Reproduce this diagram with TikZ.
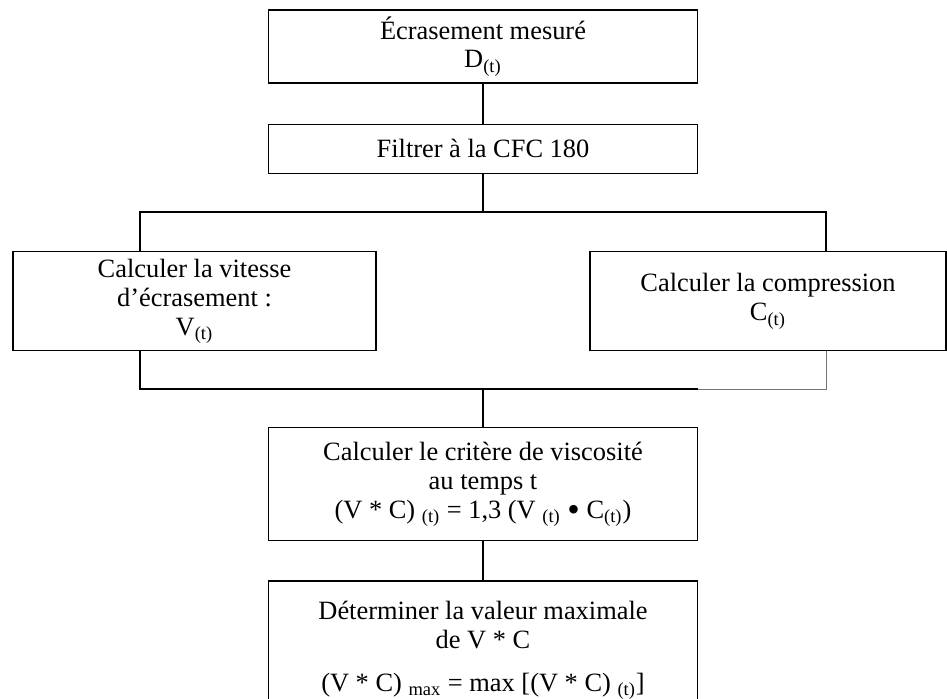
\documentclass[tikz,border=0pt]{standalone}
\usepackage{fontspec}
\setmainfont{Liberation Serif}
\usetikzlibrary{positioning}

\begin{document}
\begin{tikzpicture}
[step box/.style={rectangle,draw=black,line width=0.7pt,align=center,inner sep=0pt,
font=\fontsize{13.2}{14.4}\selectfont},
wide box/.style={step box,minimum width=214.5pt},
side box/.style={step box,minimum height=49.5pt},
link/.style={line width=0.7pt},
faint link/.style={line width=0.5pt,draw=black!55},
node distance=20pt]

\useasboundingbox (-241.5pt,23.25pt) rectangle (232pt,-326.25pt);

\node [wide box,minimum height=36.5pt] (mes) {Écrasement mesuré\\D\textsubscript{(t)}};
\node [wide box,minimum height=24.5pt] (filt) [below=of mes] {Filtrer à la CFC 180};
\node [side box,minimum width=181.5pt] (vit) [below=38.5pt of filt,xshift=-144.25pt]
{Calculer la vitesse\\d’écrasement :\\V\textsubscript{(t)}};
\node [side box,minimum width=178pt] (comp) [below=38.5pt of filt,xshift=142.5pt]
{Calculer la compression\\C\textsubscript{(t)}};
\node [wide box,minimum height=56.5pt] (visc) [below=126.5pt of filt]
{Calculer le critère de viscosité\\au temps t\\(V * C) \textsubscript{(t)} = 1,3 (V \textsubscript{(t)} \raisebox{-0.25ex}{\scalebox{1.35}{•}} C\textsubscript{(t)})};
\node [wide box,minimum height=69.5pt] (vmax) [below=19.5pt of visc]
{Déterminer la valeur maximale\\de V * C\\[7pt](V * C) \textsubscript{max} = max [(V * C) \textsubscript{(t)}]};

% branch points
\coordinate (jt) at ([yshift=-19pt]filt.south);
\coordinate (jb) at ([yshift=19pt]visc.north);
\coordinate (tl) at ([xshift=-171.5pt]jt);
\coordinate (tr) at ([xshift=171.5pt]jt);
\coordinate (bl) at ([xshift=-171.5pt]jb);
\coordinate (br) at ([xshift=171.5pt]jb);

\draw [link] (mes) -- (filt);
\draw [link] (filt) -- (jt);
\draw [link] (tl |- vit.north) -- (tl) -- (tr) -- (tr |- comp.north);
\draw [link] (bl |- vit.south) -- (bl) -- (bl -| visc.east);
\draw [faint link] (bl -| visc.east) -- (br) -- (br |- comp.south);
\draw [link] (jb) -- (visc);
\draw [link] (visc) -- (vmax);
\end{tikzpicture}
\end{document}
